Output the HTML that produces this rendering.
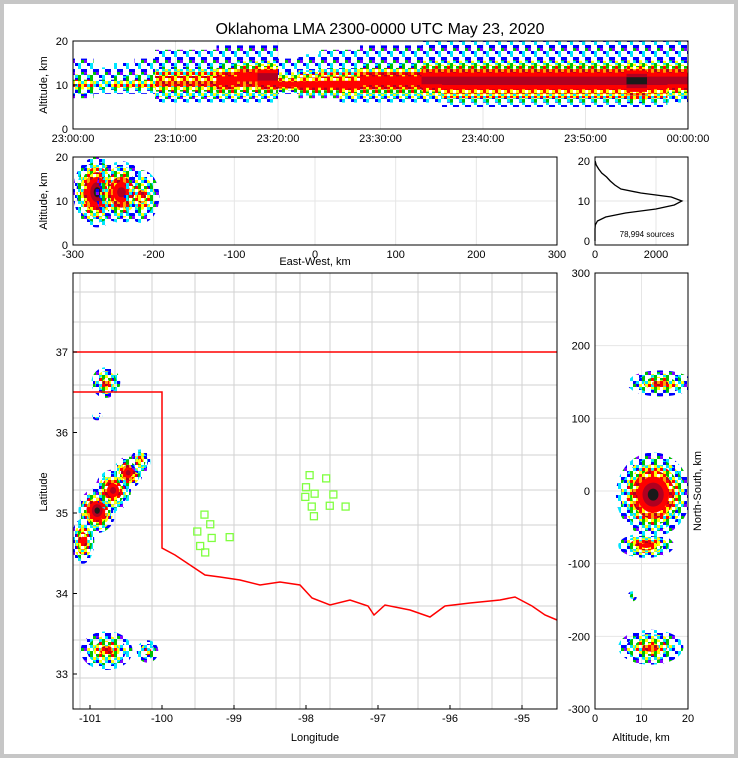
<!DOCTYPE html>
<html><head><meta charset="utf-8"><style>
body{margin:0;background:#fff}
#wrap{position:relative;width:738px;height:758px;background:#c6c6c6}
#inner{position:absolute;left:4px;top:4px;width:730px;height:750px;background:#fff}
svg{position:absolute;left:0;top:0}
text{font-family:"Liberation Sans",sans-serif;font-size:11px;fill:#000}
</style></head><body>
<div id="wrap"><div id="inner"></div>
<svg id="s" width="738" height="758">
<defs id="defs">
<clipPath id="c1"><rect x="73" y="41" width="615" height="88"/></clipPath>
<clipPath id="c2"><rect x="73" y="157" width="484" height="88"/></clipPath>
<clipPath id="c4"><rect x="73" y="273" width="484" height="436"/></clipPath>
<clipPath id="c5"><rect x="595" y="273" width="93" height="436"/></clipPath>
</defs>
<text x="380" y="34" text-anchor="middle" style="font-size:16px">Oklahoma LMA 2300-0000 UTC May 23, 2020</text>
</svg></div>
<script>
// ---- data ----
const timeBins=[0,2,4,6,8,10,12,14,16,18,20,22,24,26,28,30,32,34,36,38,40,42,44,46,48,50,52,54,56,58];
const timeLo=[7,8,8,8,6,6,6,6,6,6,8,7,7,6,6,6,6,6,5,5,5,5,5,5,5,5,5,5,5,6];
const timeHi=[16,14,15,16,18,18,18,19,19,19,16,17,18,18,19,19,19,20,20,20,20,20,20,20,20,20,20,20,20,20];
const timeCore=[10,10,10,10,11,11,11,11,12,12,10,10,10,10,11,11,11,11,11,11,11,11,11,11,11,11,11,11,11,11];
const timeInt=[2,1,2,2,3,3,3,4,4,5,4,4,4,4,4,4,4,5,5,5,5,5,5,5,5,5,5,6,5,5];
const histAlt=[0,1,2,3,4,5,6,7,8,9,10,11,12,13,14,15,16,17,18,19,20];
const histCount=[0,0,0,0,10,80,350,1000,2000,2600,2850,2500,1500,850,650,500,380,220,120,40,5];
const mapLon=[-100.78,-100.9,-100.9,-100.68,-100.47,-100.3,-101.1,-100.77,-100.2];
const mapLat=[36.62,36.2,35.03,35.28,35.5,35.64,34.65,33.29,33.28];
const mapRx=[0.2,0.07,0.26,0.25,0.2,0.14,0.16,0.36,0.15];
const mapRy=[0.19,0.05,0.28,0.26,0.2,0.15,0.28,0.24,0.14];
const mapInt=[3,1,6,5,5,3,4,3,2];
const ewX=[-270,-240,-215];
const ewAlt=[12,12,11];
const ewRx=[30,32,22];
const ewRy=[8,7,6];
const ewInt=[6,5,3];
const nsY=[148,-5,-75,-215,-145];
const nsAlt=[14,12.5,11,12,8];
const nsRx=[7,8,6,7,1];
const nsRy=[18,58,17,24,7];
const nsInt=[3,6,4,3,1];
const siteLon=[-99.41,-99.33,-99.51,-99.31,-99.47,-99.4,-99.06,-97.95,-97.72,-98.0,-97.88,-97.62,-98.01,-97.92,-97.67,-97.45,-97.89];
const siteLat=[34.98,34.86,34.77,34.69,34.59,34.51,34.7,35.47,35.43,35.32,35.24,35.23,35.2,35.08,35.09,35.08,34.96];
const colors=["#0000ff","#00e5ff","#00c000","#ffff00","#ff0000","#b00020","#1a1a1a","#ffffff"];
// ---- helpers ----
const S=document.getElementById('s');const NS='http://www.w3.org/2000/svg';
function el(t,a,p){const e=document.createElementNS(NS,t);for(const k in a)e.setAttribute(k,a[k]);(p||S).appendChild(e);return e;}
function lin(d0,d1,r0,r1){return v=>r0+(v-d0)*(r1-r0)/(d1-d0);}
function txt(x,y,s,anchor,name,extra){const t=el('text',Object.assign({x:x,y:y,'text-anchor':anchor||'middle'},extra||{}));t.textContent=s;return t;}
function frame(x0,y0,x1,y1,name){const r=el('rect',{x:x0,y:y0,width:x1-x0,height:y1-y0,fill:'none',stroke:'#000','stroke-width':1});}
function clipG(id,name){const g=el('g',{'clip-path':'url(#'+id+')'});return g;}
// speckle patterns (texture only)
const D=document.getElementById('defs');
const order=[5,10,0,15,3,12,6,9,1,14,7,8,2,13,4,11];
const patN=[7,10,13,15];
const patCols=[["#0000ff","#00e5ff","#8000ff","#0000ff","#00c000"],["#00e5ff","#00c000","#0000ff","#ffff00","#00e5ff"],["#ffff00","#00c000","#ff0000","#00e5ff","#ffff00"],["#ff0000","#ffff00","#ff0000","#ffa000","#b00020"]];
for(let k=0;k<4;k++){const p=el('pattern',{id:'sp'+k,width:12,height:12,patternUnits:'userSpaceOnUse'},D);
 for(let j=0;j<patN[k];j++){const c=order[j];el('rect',{x:(c%4)*3,y:Math.floor(c/4)*3,width:3,height:3,fill:patCols[k][j%5]},p);}}
function fillFor(k){return k<4?'url(#sp'+k+')':colors[k];}
function blobs(X,Y,RX,RY,I,sx,sy,name,parent){for(let i=0;i<X.length;i++){const g=el('g',{},parent);
 const cx=sx(X[i]),cy=sy(Y[i]),rx=Math.abs(sx(X[i]+RX[i])-cx),ry=Math.abs(sy(Y[i]+RY[i])-cy);
 for(let k=0;k<=I[i];k++){const f=1-k/(I[i]+1);el('ellipse',{cx:cx,cy:cy,rx:rx*f,ry:ry*f,fill:fillFor(k)},g);}}}
// ---- panel 1: time-height ----
const tx=lin(0,60,73,688),ty=lin(0,20,129,41);
[10,20,30,40,50].forEach(t=>el('line',{x1:tx(t),x2:tx(t),y1:41,y2:129,stroke:'#e6e6e6'}));
const g1=clipG('c1','time-height-density');
for(let i=0;i<timeBins.length;i++){const g=el('g',{},g1);
 const x0=tx(timeBins[i]),w=tx(timeBins[i]+2)-x0,n=timeInt[i];
 for(let k=0;k<=n;k++){const f=1-k/(n+1);const lo=timeCore[i]-(timeCore[i]-timeLo[i])*f,hi=timeCore[i]+(timeHi[i]-timeCore[i])*f*(k==0?1:0.6);
  el('rect',{x:x0,y:ty(hi),width:w,height:ty(lo)-ty(hi),fill:fillFor(k)},g);}}
frame(73,41,688,129,'time-height-frame');
[0,10,20].forEach(v=>{txt(68,ty(v)+4,v,'end','y-tick-label');el('line',{x1:73,x2:77,y1:ty(v),y2:ty(v),stroke:'#000'});});
['23:00:00','23:10:00','23:20:00','23:30:00','23:40:00','23:50:00','00:00:00'].forEach((s,i)=>{txt(tx(i*10),142,s,'middle','x-tick-label');});
txt(47,85,'Altitude, km','middle','y-axis-title',{transform:'rotate(-90 47 85)'});
// ---- panel 2: EW ----
const ex=lin(-300,300,73,557),ey=lin(0,20,245,157);
[-200,-100,0,100,200].forEach(v=>el('line',{x1:ex(v),x2:ex(v),y1:157,y2:245,stroke:'#e6e6e6'}));
[10].forEach(v=>el('line',{x1:73,x2:557,y1:ey(v),y2:ey(v),stroke:'#e6e6e6'}));
blobs(ewX,ewAlt,ewRx,ewRy,ewInt,ex,ey,'ew-source-density',clipG('c2','ew-density'));
frame(73,157,557,245,'ew-frame');
[0,10,20].forEach(v=>txt(68,ey(v)+4,v,'end','y-tick-label'));
[-300,-200,-100,0,100,200,300].forEach(v=>txt(ex(v),258,v,'middle','x-tick-label'));
txt(315,265,'East-West, km','middle','x-axis-title');
txt(47,201,'Altitude, km','middle','y-axis-title',{transform:'rotate(-90 47 201)'});
// ---- panel 3: histogram ----
const hx=lin(0,3050,595,688),hy=lin(0,21,241,157);
[10].forEach(v=>el('line',{x1:595,x2:688,y1:hy(v),y2:hy(v),stroke:'#e6e6e6'}));
el('line',{x1:hx(2000),x2:hx(2000),y1:157,y2:245,stroke:'#e6e6e6'});
const hp=el('polyline',{points:histAlt.map((a,i)=>hx(histCount[i])+','+hy(a)).join(' '),fill:'none',stroke:'#000','stroke-width':1.3});

frame(595,157,688,245,'hist-frame');
[0,10,20].forEach(v=>txt(590,hy(v)+4,v,'end','y-tick-label'));
[0,2000].forEach(v=>txt(hx(v),258,v,'middle','x-tick-label'));
txt(647,237,'78,994 sources','middle','source-count',{style:'font-size:8px'});
// ---- panel 4: map ----
const mx=lin(-101.236,-94.514,73,557),my=lin(37,33,352,674);
const mg=el('g',{stroke:'#d2d2d2','stroke-width':1,fill:'none'});
[80,115,152,195,234,276,300,330,372,418,460,492,522].forEach(x=>el('line',{x1:x,x2:x,y1:273,y2:709},mg));
[292,322,385,418,455,490,525,565,606,640,678].forEach(y=>el('line',{x1:73,x2:557,y1:y,y2:y},mg));
blobs(mapLon,mapLat,mapRx,mapRy,mapInt,mx,my,'map-source-density',clipG('c4','map-density'));
const river=[[162,548],[175,555],[190,565],[205,575],[220,577],[240,580],[260,585],[280,582],[300,585],[312,598],[330,605],[350,600],[368,606],[374,615],[385,605],[410,610],[430,617],[445,606],[470,603],[500,600],[515,597],[532,606],[545,615],[557,620]];
const okp=el('path',{d:'M73,352 L557,352 M73,392 L162,392 L162,548 '+river.map(p=>'L'+p[0]+','+p[1]).join(' '),fill:'none',stroke:'#f00','stroke-width':1.5});

for(let i=0;i<siteLon.length;i++){const r=el('rect',{x:mx(siteLon[i])-3.5,y:my(siteLat[i])-3.5,width:7,height:7,fill:'none',stroke:'#7fff3f','stroke-width':1.3});}
frame(73,273,557,709,'map-frame');
[-101,-100,-99,-98,-97,-96,-95].forEach(v=>{txt(mx(v),722,v,'middle','x-tick-label');el('line',{x1:mx(v),x2:mx(v),y1:709,y2:705,stroke:'#000'});});
[37,36,35,34,33].forEach(v=>{txt(68,my(v)+4,v,'end','y-tick-label');el('line',{x1:73,x2:77,y1:my(v),y2:my(v),stroke:'#000'});});
txt(315,741,'Longitude','middle','x-axis-title');
txt(47,492,'Latitude','middle','y-axis-title',{transform:'rotate(-90 47 492)'});
// ---- panel 5: NS ----
const nx=lin(0,20,595,688),ny=lin(-300,300,709,273);
[-200,-100,0,100,200].forEach(v=>el('line',{x1:595,x2:688,y1:ny(v),y2:ny(v),stroke:'#e6e6e6'}));
el('line',{x1:nx(10),x2:nx(10),y1:273,y2:709,stroke:'#e6e6e6'});
blobs(nsAlt,nsY,nsRx,nsRy,nsInt,nx,ny,'ns-source-density',clipG('c5','ns-density'));
frame(595,273,688,709,'ns-frame');
[300,200,100,0,-100,-200,-300].forEach(v=>txt(590,ny(v)+4,v,'end','y-tick-label'));
[0,10,20].forEach(v=>txt(nx(v),722,v,'middle','x-tick-label'));
txt(641,741,'Altitude, km','middle','x-axis-title');
txt(701,491,'North-South, km','middle','y-axis-title',{transform:'rotate(-90 701 491)'});
</script></body></html>
